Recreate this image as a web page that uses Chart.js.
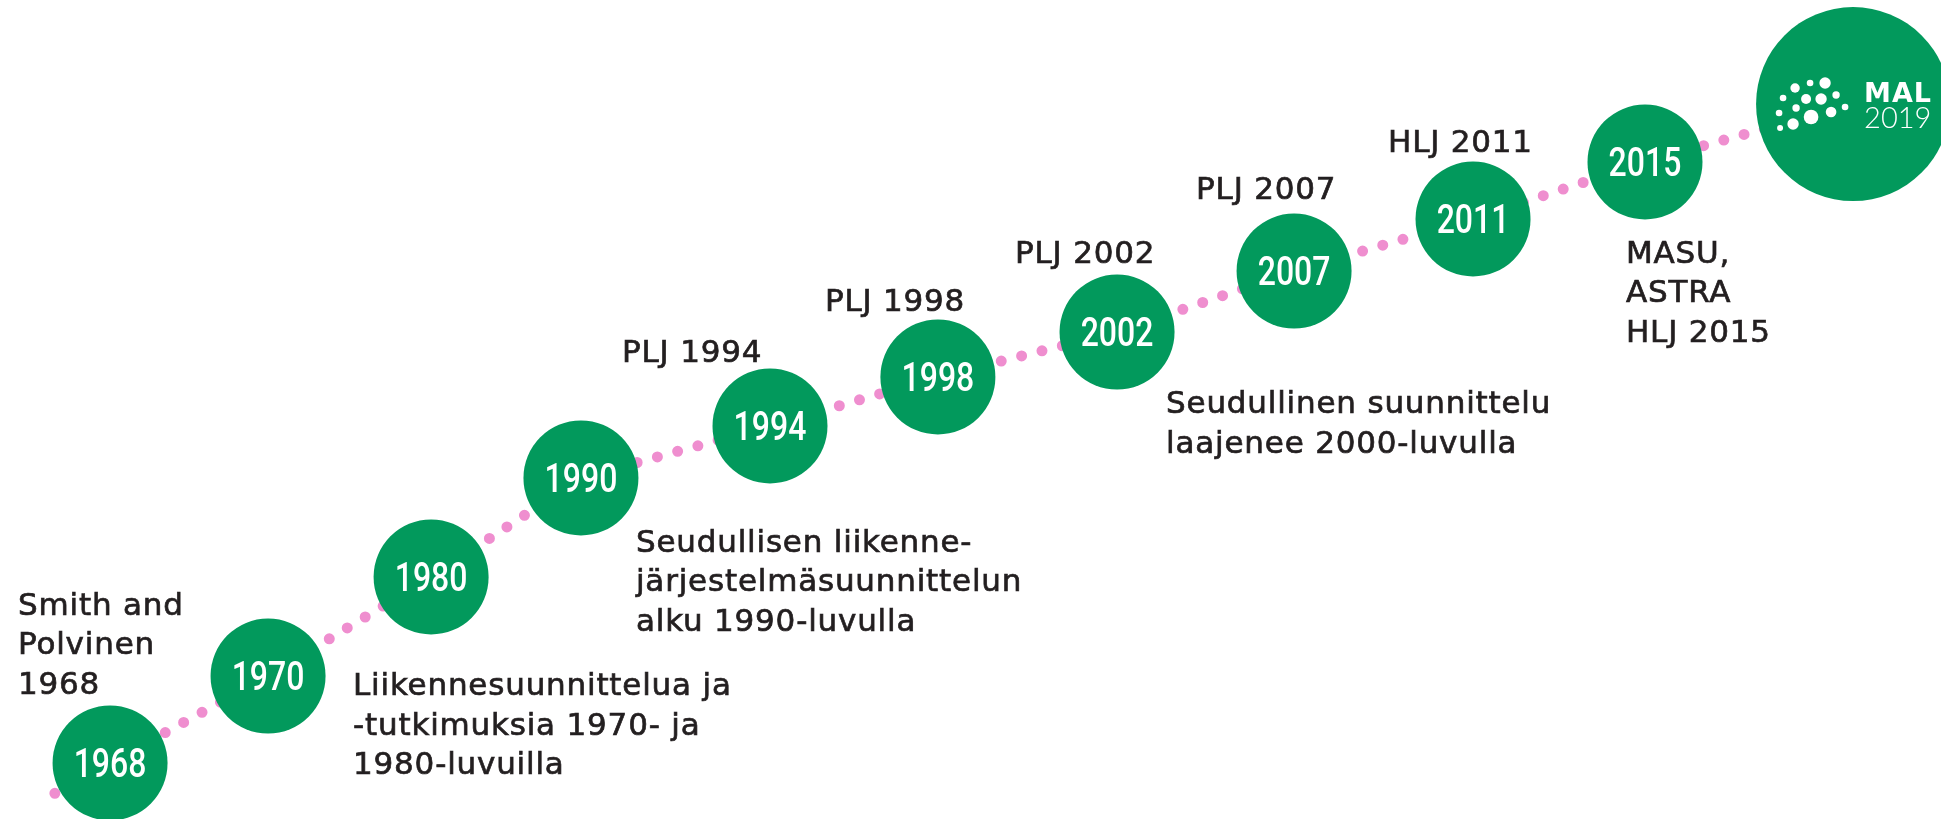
<!DOCTYPE html>
<html lang="fi">
<head>
<meta charset="utf-8">
<title>Aikajana</title>
<script src="https://cdn.jsdelivr.net/npm/chart.js@4/dist/chart.umd.min.js"></script>
<style>
  html, body { margin: 0; padding: 0; background: #fff; }
  #wrap { width: 1941px; height: 819px; position: relative; }
</style>
</head>
<body>
<div id="wrap"><canvas id="timeline"></canvas></div>
<script>
// =======================
// aikajanan tiedot
// =======================

const years = ['1968', '1970', '1980', '1990', '1994', '1998', '2002', '2007', '2011', '2015', '2019'];

// vaakasuuntainen eteneminen ja taso (0-100), luettu kuvasta
const stepValues = [5.67, 13.81, 22.21, 29.93, 39.67, 48.32, 57.55, 66.67, 75.89, 84.75, 95.47];
const levelValues = [6.84, 17.46, 29.55, 41.64, 47.99, 53.97, 59.46, 66.91, 73.26, 80.22, 87.30];

const noteLines = [
  ['Smith and', 'Polvinen', '1968'],
  ['Liikennesuunnittelua ja', '-tutkimuksia 1970- ja', '1980-luvuilla'],
  ['Seudullisen liikenne-', 'järjestelmäsuunnittelun', 'alku 1990-luvulla'],
  ['PLJ 1994'],
  ['PLJ 1998'],
  ['PLJ 2002'],
  ['PLJ 2007'],
  ['HLJ 2011'],
  ['MASU,', 'ASTRA', 'HLJ 2015'],
  ['Seudullinen suunnittelu', 'laajenee 2000-luvulla']
];
const noteAnchor = [0, 1, 3, 4, 5, 6, 7, 8, 9, 6];

// tekstien sijainti suhteessa ympyrään (px)
const noteOffsets = [
  [-92, -148], [85, 19], [55, 74], [-148, -64], [-113, -66],
  [-102, -69], [-98, -72], [-85, -67], [-19, 101], [49, 81]
];

const GREEN = '#02995c';
const PINK = '#ef8ecf';
const INK = '#231f20';

// MAL-logon pisteet: [dx, dy, r]
const logoDots = [
  [-70, -6, 3.3], [-58, -16, 4.7], [-43, -21, 3.3], [-28, -21, 5.7],
  [-47, -5, 5], [-32, -5, 5.7], [-17, -9, 3.7], [-74, 9, 3.3],
  [-57, 4, 3.7], [-42, 13, 7.3], [-60, 20, 5.7], [-22, 8, 5.3],
  [-8, 3, 3.3], [-73, 24, 3]
];

const points = years.map((y, i) => ({ x: stepValues[i], y: levelValues[i] }));

// viivan jatke ensimmäisen ympyrän alle
const tailPlugin = {
  id: 'tail',
  beforeDatasetsDraw(chart) {
    const pts = chart.getDatasetMeta(0).data;
    const a = pts[0], b = pts[1];
    const dx = a.x - b.x, dy = a.y - b.y;
    const ctx = chart.ctx;
    ctx.save();
    ctx.strokeStyle = PINK;
    ctx.lineWidth = 11;
    ctx.lineCap = 'round';
    ctx.setLineDash([0, 21]);
    ctx.beginPath();
    ctx.moveTo(a.x, a.y);
    ctx.lineTo(a.x + dx * 0.36, a.y + dy * 0.36);
    ctx.stroke();
    ctx.restore();
  }
};

const labelPlugin = {
  id: 'labels',
  afterDatasetsDraw(chart) {
    const ctx = chart.ctx;
    const pts = chart.getDatasetMeta(0).data;

    // vuosiluvut ympyröissä
    ctx.save();
    ctx.fillStyle = '#fff';
    ctx.textAlign = 'center';
    ctx.textBaseline = 'alphabetic';
    ctx.font = '500 40px Roboto';
    pts.forEach((p, i) => {
      if (i === pts.length - 1) return;
      ctx.save();
      ctx.translate(p.x, p.y + 14);
      ctx.scale(0.8, 1);
      ctx.fillText(years[i], 0, 0);
      ctx.restore();
    });
    ctx.restore();

    // MAL 2019 -logo
    const last = pts[pts.length - 1];
    ctx.save();
    ctx.fillStyle = '#fff';
    logoDots.forEach(d => {
      ctx.beginPath();
      ctx.arc(last.x + d[0], last.y + d[1], d[2], 0, Math.PI * 2);
      ctx.fill();
    });
    ctx.textAlign = 'left';
    ctx.font = 'bold 27px "DejaVu Sans"';
    ctx.letterSpacing = '1px';
    ctx.fillText('MAL', last.x + 11, last.y - 2);
    ctx.font = '300 29px Lato';
    ctx.letterSpacing = '0px';
    ctx.fillText(years[years.length - 1], last.x + 11, last.y + 24);
    ctx.restore();

    // selitetekstit
    ctx.save();
    ctx.fillStyle = INK;
    ctx.strokeStyle = INK;
    ctx.lineWidth = 0.7;
    ctx.textAlign = 'left';
    ctx.font = '31px "DejaVu Sans"';
    ctx.letterSpacing = '0.8px';
    noteLines.forEach((lines, n) => {
      const p = pts[noteAnchor[n]];
      const off = noteOffsets[n];
      lines.forEach((t, k) => {
        const tx = p.x + off[0], ty = p.y + off[1] + k * 39.5;
        ctx.fillText(t, tx, ty);
        ctx.strokeText(t, tx, ty);
      });
    });
    ctx.restore();
  }
};

new Chart(document.getElementById('timeline'), {
  type: 'line',
  data: {
    labels: years,
    datasets: [{
      data: points,
      borderColor: PINK,
      borderWidth: 11,
      borderDash: [0, 21],
      borderCapStyle: 'round',
      tension: 0,
      fill: false,
      pointRadius: years.map((y, i) => i === years.length - 1 ? 97 : 57.5),
      pointHoverRadius: years.map((y, i) => i === years.length - 1 ? 97 : 57.5),
      pointBackgroundColor: GREEN,
      pointBorderWidth: 0,
      clip: false
    }]
  },
  options: {
    responsive: true,
    maintainAspectRatio: false,
    animation: false,
    layout: { padding: 0, autoPadding: false },
    events: [],
    plugins: {
      legend: { display: false },
      tooltip: { enabled: false }
    },
    scales: {
      x: { type: 'linear', min: 0, max: 100, display: false },
      y: { type: 'linear', min: 0, max: 100, display: false }
    }
  },
  plugins: [tailPlugin, labelPlugin]
});
</script>
</body>
</html>
